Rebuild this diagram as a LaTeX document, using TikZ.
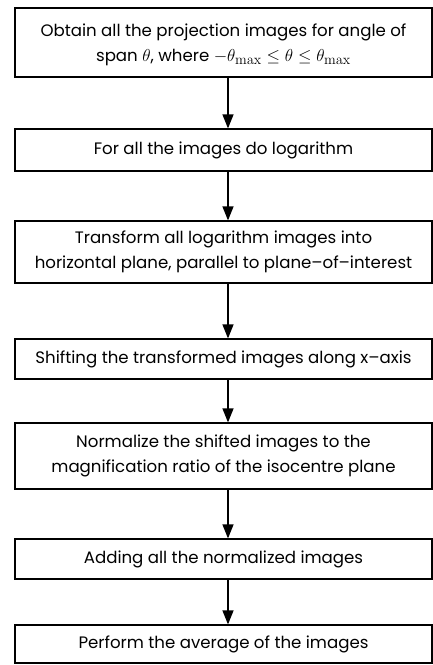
\documentclass[tikz,border=0pt]{standalone}
\usepackage[no-math]{fontspec}
\setmainfont{Poppins}
\usetikzlibrary{arrows.meta}
% slightly larger size for the formula in the first step
\newcommand{\bigmath}[1]{{\fontsize{19}{25}\selectfont$#1$}}
\begin{document}
\begin{tikzpicture}[x=1pt,y=-1pt,
  stepbox/.style={draw=black, line width=1.2pt, minimum width=417pt, inner sep=0pt,
    align=center, font=\fontsize{16.6}{25}\selectfont, text=black},
  flow/.style={draw=black, line width=1.2pt, -{Triangle[width=11pt,length=14pt]}}]
  \useasboundingbox (0,0) rectangle (433,665);
  % first step: text placed separately so its lines sit a little lower
  \node[stepbox, minimum height=69pt] (b1) at (223.5,42.5) {};
  \node[align=center, inner sep=0pt, font=\fontsize{16.6}{25}\selectfont] (t1) at (223.5,45)
    {Obtain all the projection images for angle of\\
     span \bigmath{\theta}, where \bigmath{-\theta_{\mathrm{max}}\le\theta\le\theta_{\mathrm{max}}}};
  \node[stepbox, minimum height=42pt] (b2) at (223.5,150) {For all the images do logarithm};
  \node[stepbox, minimum height=62pt] (b3) at (223.5,252)
    {Transform all logarithm images into\\ horizontal plane, parallel to plane--of--interest};
  \node[stepbox, minimum height=40pt] (b4) at (223.5,359) {Shifting the transformed images along x--axis};
  \node[stepbox, minimum height=66pt] (b5) at (223.5,456)
    {Normalize the shifted images to the\\ magnification ratio of the isocentre plane};
  \node[stepbox, minimum height=40pt] (b6) at (223.5,559) {Adding all the normalized images};
  \node[stepbox, minimum height=38pt] (b7) at (223.5,644) {Perform the average of the images};
  \coordinate (ax) at (228,0);
  \draw[flow] (b1.south -| ax) -- (b2.north -| ax);
  \draw[flow] (b2.south -| ax) -- (b3.north -| ax);
  \draw[flow] (b3.south -| ax) -- (b4.north -| ax);
  \draw[flow] (b4.south -| ax) -- (b5.north -| ax);
  \draw[flow] (b5.south -| ax) -- (b6.north -| ax);
  \draw[flow] (b6.south -| ax) -- (b7.north -| ax);
\end{tikzpicture}
\end{document}
